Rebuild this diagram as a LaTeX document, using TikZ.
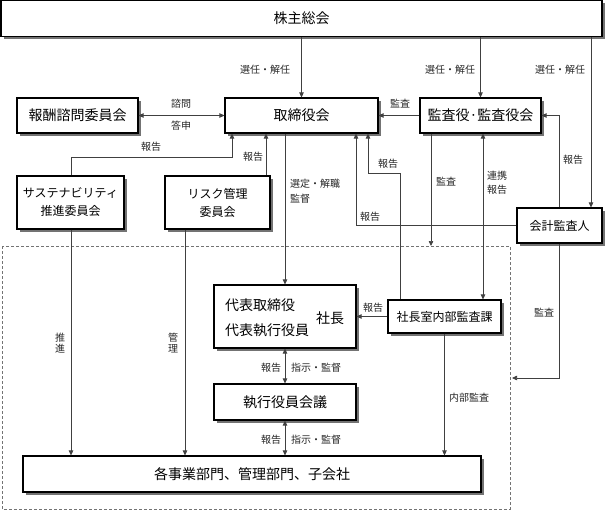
\documentclass[tikz,border=0pt]{standalone}
\usepackage{fontspec}
\setmainfont{Noto Sans CJK JP}
\usetikzlibrary{shadows,arrows.meta,calc}
\begin{document}
\begin{tikzpicture}[x=1pt,y=-1pt,
  box/.style={draw=black, line width=1.1pt, fill=white, inner sep=0pt, align=center,
    drop shadow={shadow xshift=3pt, shadow yshift=-3pt, fill=black!55, opacity=1}},
  big/.style={font=\fontsize{14}{16}\selectfont},
  small/.style={font=\fontsize{12}{18}\selectfont},
  conn/.style={draw=black!75, line width=0.7pt},
  arr/.style={conn, -{Triangle[length=5pt,width=4.5pt]}},
  darr/.style={conn, {Triangle[length=5pt,width=4.5pt]}-{Triangle[length=5pt,width=4.5pt]}},
  lbl/.style={font=\fontsize{10}{14}\selectfont, inner sep=0pt, text=black!85}
]
\useasboundingbox (0,0) rectangle (605,511);
% dashed region
\draw[black!55, line width=0.9pt, dash pattern=on 3pt off 2pt] (2,246) rectangle (510,509);

% boxes
\node[box,big,minimum width=601,minimum height=36] (sh) at (301.5,18.5) {株主総会};
\node[box,big,minimum width=153,minimum height=35] (tor) at (301.5,115.5) {取締役会};
\node[box,big,minimum width=121,minimum height=35] (hos) at (77.5,115.5) {報酬諮問委員会};
\node[box,big,minimum width=121,minimum height=35] (kan) at (480.5,115.5) {監査役·監査役会};
\node[box,small,minimum width=107,minimum height=53] (sus) at (70.5,202.5) {サステナビリティ\\推進委員会};
\node[box,small,minimum width=105,minimum height=53] (ris) at (217.5,202.5) {リスク管理\\委員会};
\node[box,small,minimum width=85,minimum height=35] (kai) at (559.5,225.5) {会計監査人};
\node[box,minimum width=142,minimum height=63] (dai) at (285,316.5) {};
\node[big,anchor=west,inner sep=0pt] (dai1) at (225,305) {代表取締役};
\node[big,anchor=west,inner sep=0pt] (dai2) at (225,330) {代表執行役員};
\node[big,inner sep=0pt] (dai3) at (330,318) {社長};
\node[box,small,minimum width=113,minimum height=33] (shi) at (444.5,316.5) {社長室内部監査課};
\node[box,big,minimum width=142,minimum height=36] (shk) at (285,402) {執行役員会議};
\node[box,big,minimum width=458,minimum height=36] (kak) at (252,474) {各事業部門、管理部門、子会社};

% shareholders
\draw[arr] (tor.north |- sh.south) -- (tor.north);
\node[lbl] (l1) at (265,70) {選任・解任};
\draw[arr] (kan.north |- sh.south) -- (kan.north);
\node[lbl] (l2) at (450,70) {選任・解任};
\draw[arr] (sh.south -| 591,0) -- (kai.north -| 591,0);
\node[lbl] (l3) at (560,70) {選任・解任};

% advisory
\draw[darr] (hos.east) -- (tor.west);
\node[lbl] (l4) at (181,104) {諮問};
\node[lbl] (l5) at (181,126) {答申};
\draw[arr] (kan.west) -- (tor.east);
\node[lbl] (l6) at (400,104) {監査};
\draw[arr] (kai.north -| 559,0) -- (559,115.5) -- (kan.east);
\node[lbl] (l7) at (573,160) {報告};

% reports to board
\draw[arr] (sus.north -| 71,0) -- (71,157) -- (232,157) -- (tor.south -| 232,0);
\node[lbl] (l8) at (151,147) {報告};
\draw[arr] (ris.north -| 266,0) -- (tor.south -| 266,0);
\node[lbl] (l9) at (253,157) {報告};
\draw[arr] (kai.west) -- (356,225.5) -- (tor.south -| 356,0);
\node[lbl] (l10) at (370,217) {報告};
\draw[arr] (shi.north -| 400,0) -- (400,173) -- (368,173) -- (tor.south -| 368,0);
\node[lbl] (l11) at (388,164) {報告};

% board to CEO
\draw[arr] (tor.south -| 285,0) -- (dai.north);
\node[lbl,anchor=west] (l12) at (290,184) {選定・解職};
\node[lbl,anchor=west] (l13) at (290,199) {監督};

% auditors
\coordinate (dtop) at (431,246);
\draw[arr] (kan.south -| 431,0) -- (dtop);
\node[lbl] (l14) at (446,182) {監査};
\draw[darr] (kan.south -| 483,0) -- (shi.north -| 483,0);
\node[lbl] (l15) at (497,176) {連携};
\node[lbl] (l16) at (497,190) {報告};
\coordinate (dright) at (512,378);
\draw[arr] (kai.south -| 559,0) -- (559,378) -- (dright);
\node[lbl] (l17) at (544,313) {監査};

% down to departments
\draw[arr] (sus.south -| 71,0) -- (kak.north -| 71,0);
\node[lbl,align=center,font=\fontsize{10}{11}\selectfont] (l18) at (60,343) {推\\進};
\draw[arr] (ris.south -| 185,0) -- (kak.north -| 185,0);
\node[lbl,align=center,font=\fontsize{10}{11}\selectfont] (l19) at (173,343) {管\\理};
\draw[arr] (shi.west) -- (dai.east |- shi.west);
\node[lbl] (l20) at (373,308) {報告};
\draw[arr] (shi.south) -- (kak.north -| shi.south);
\node[lbl] (l21) at (469,398) {内部監査};

\draw[darr] (dai.south) -- (shk.north);
\node[lbl] (l22) at (271,368) {報告};
\node[lbl] (l23) at (316,368) {指示・監督};
\draw[darr] (shk.south) -- (kak.north -| shk.south);
\node[lbl] (l24) at (271,440) {報告};
\node[lbl] (l25) at (316,440) {指示・監督};
\end{tikzpicture}
\end{document}
